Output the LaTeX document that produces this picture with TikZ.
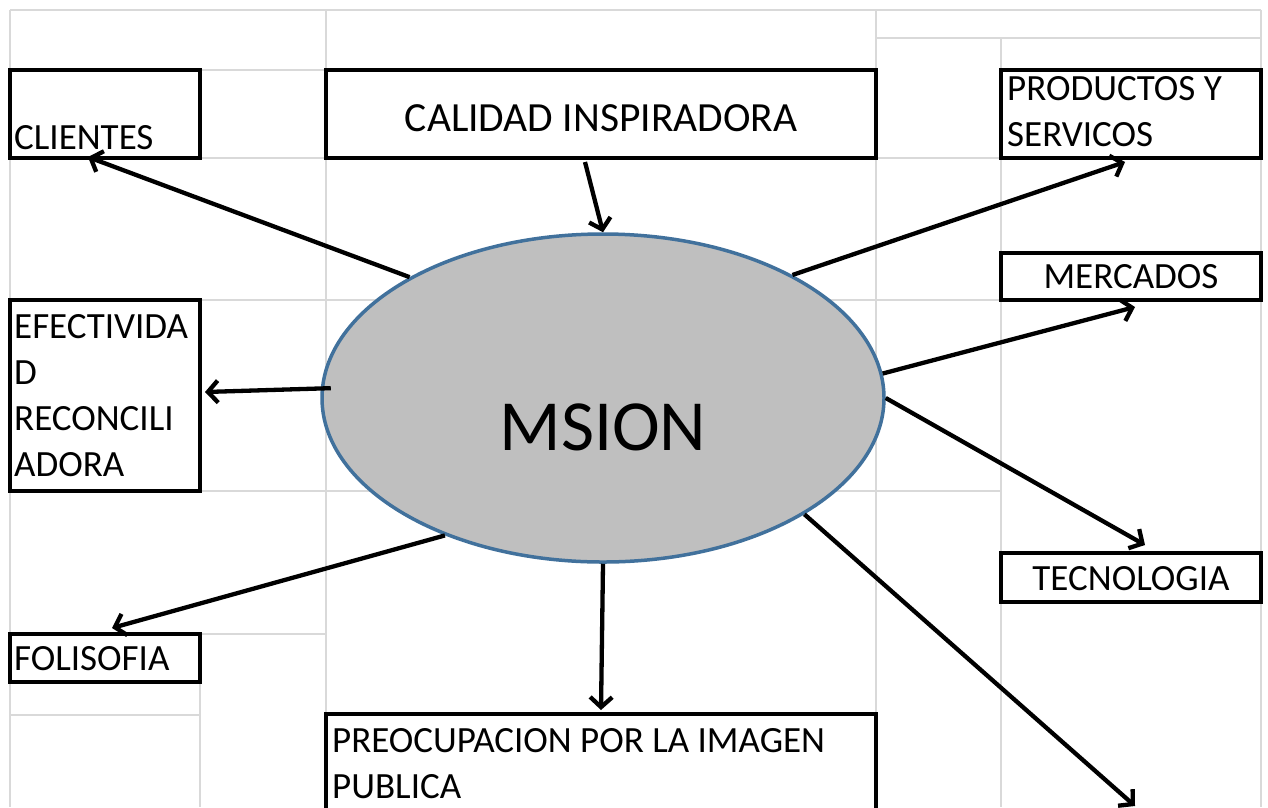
\documentclass[tikz,border=0pt]{standalone}
\usepackage{fontspec}
\setmainfont{Carlito}
\usetikzlibrary{arrows.meta,shapes.geometric}
\definecolor{ellgray}{HTML}{BFBFBF}
\definecolor{ellblue}{HTML}{41719C}
\definecolor{gridgray}{HTML}{D9D9D9}
\begin{document}
\begin{tikzpicture}[x=1pt,y=-1pt,
  gridline/.style={draw=gridgray, line width=1.8pt},
  box/.style={draw=black, line width=4pt, rectangle, inner sep=0pt, fill=white},
  txt/.style={font=\fontsize{37}{46}\selectfont, inner sep=0pt, align=left},
  conn/.style={draw=black, line width=4.3pt, -{Straight Barb[length=10pt,width=22pt]}},
]
\useasboundingbox (0,0) rectangle (1268,807);
\fill[white] (0,0) rectangle (1268,807);
% grid
\draw[gridline] (10,10) -- (1261,10);
\draw[gridline] (10,10) -- (10,807);
\draw[gridline] (326,10) -- (326,807);
\draw[gridline] (876,10) -- (876,807);
\draw[gridline] (1001,38) -- (1001,807);
\draw[gridline] (1261,10) -- (1261,807);
\draw[gridline] (876,38) -- (1261,38);
\draw[gridline] (200,70) -- (326,70);
\draw[gridline] (200,158) -- (1001,158);
\draw[gridline] (200,300) -- (1261,300);
\draw[gridline] (200,491) -- (1001,491);
\draw[gridline] (200,634) -- (326,634);
\draw[gridline] (10,715) -- (200,715);
\draw[gridline] (200,634) -- (200,807);
% boxes
\node[box, minimum width=190, minimum height=88] (cli) at (105,114) {};
\node[box, minimum width=550, minimum height=88] (cal) at (601,114) {};
\node[box, minimum width=260, minimum height=88] (prod) at (1131,114) {};
\node[box, minimum width=260, minimum height=47] (merc) at (1131,276.5) {};
\node[box, minimum width=190, minimum height=191] (efe) at (105,395.5) {};
\node[box, minimum width=260, minimum height=49] (tec) at (1131,577.5) {};
\node[box, minimum width=190, minimum height=48] (fol) at (105,658) {};
\node[box, minimum width=550, minimum height=106] (pre) at (601,767) {};
% texts (multi-line nodes: base anchor is the last line)
\node[txt, anchor=base west] (tcli) at (14,149) {CLIENTES};
\node[txt, anchor=base, font=\fontsize{41.5}{46}\selectfont] (tcal) at (601,131) {CALIDAD INSPIRADORA};
\node[txt, anchor=base west] (tprod) at (1007,146) {PRODUCTOS Y\\SERVICOS};
\node[txt, anchor=base] (tmerc) at (1131,288) {MERCADOS};
\node[txt, anchor=base west] (tefe) at (14,476) {EFECTIVIDA\\D\\RECONCILI\\ADORA};
\node[txt, anchor=base] (ttec) at (1131,590) {TECNOLOGIA};
\node[txt, anchor=base west] (tfol) at (14,670) {FOLISOFIA};
\node[txt, anchor=base west] (tpre) at (332,798) {PREOCUPACION POR LA IMAGEN\\PUBLICA};
% ellipse
\node[ellipse, draw=ellblue, line width=3.5pt, fill=ellgray, minimum width=562, minimum height=328, inner sep=0pt] (m) at (603,398) {};
\node[font=\fontsize{72}{80}\selectfont, inner sep=0pt, anchor=base] (mt) at (603,450) {MSION};
% connectors
\coordinate (e6) at (1135,806);
\draw[conn] (m.148.8) -- ([xshift=-17pt,yshift=3pt]cli.south);
\draw[conn] ([xshift=-16pt,yshift=-2pt]cal.south) -- (m.north);
\draw[conn] (m.33.8) -- ([xshift=-6pt,yshift=-2pt]prod.south);
\draw[conn] (m.5.2) -- ([xshift=4pt,yshift=-5pt]merc.south);
\draw[conn] (m.0) -- ([xshift=14pt,yshift=6pt]tec.north);
\draw[conn] (m.-30.3) -- (e6);
\draw[conn] (m.221) -- ([xshift=7pt,yshift=4pt]fol.north);
\draw[conn] (m.south) -- ([yshift=2pt]pre.north);
\draw[conn] ([xshift=10pt]m.178.7) -- ([xshift=3pt,yshift=3.5pt]efe.east);
\end{tikzpicture}
\end{document}
